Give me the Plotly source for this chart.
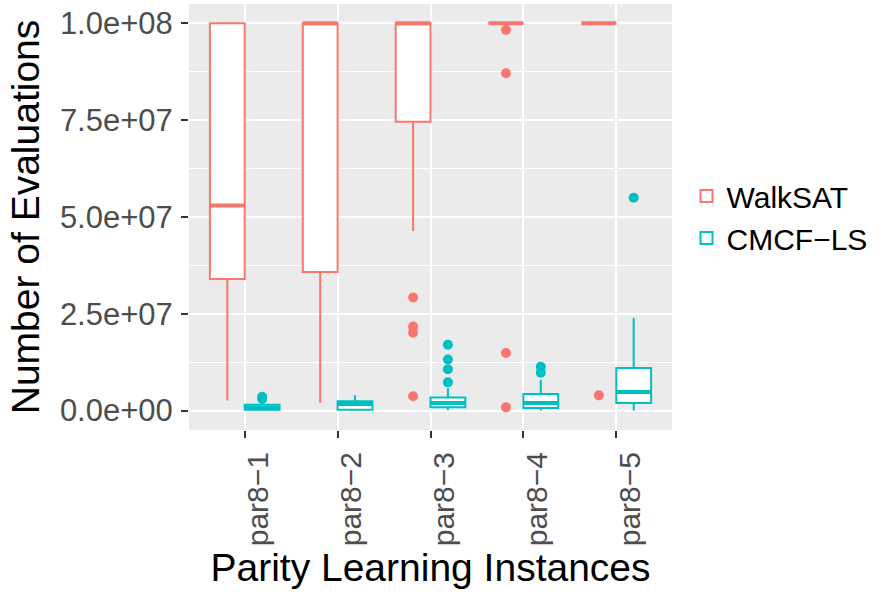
import plotly.graph_objects as go

# Parity learning instances (x categories)
instances = ["par8−1", "par8−2", "par8−3", "par8−4", "par8−5"]

# WalkSAT box statistics (number of evaluations)
walksat_low = [2.6e6, 2.0e6, 4.64e7, 1.0e8, 1.0e8]
walksat_q1 = [3.4e7, 3.58e7, 7.46e7, 1.0e8, 1.0e8]
walksat_median = [5.3e7, 1.0e8, 1.0e8, 1.0e8, 1.0e8]
walksat_q3 = [1.0e8, 1.0e8, 1.0e8, 1.0e8, 1.0e8]
walksat_high = [1.0e8, 1.0e8, 1.0e8, 1.0e8, 1.0e8]
walksat_outlier_x = ["par8−3", "par8−3", "par8−3", "par8−3",
                     "par8−4", "par8−4", "par8−4", "par8−4", "par8−5"]
walksat_outlier_y = [2.92e7, 2.17e7, 2.01e7, 3.7e6,
                     9.83e7, 8.71e7, 1.49e7, 0.85e6, 3.95e6]

# CMCF-LS box statistics
cmcf_low = [0.05e6, 0.05e6, 0.1e6, 0.05e6, 0.05e6]
cmcf_q1 = [0.25e6, 0.26e6, 0.85e6, 0.7e6, 2.0e6]
cmcf_median = [0.8e6, 1.7e6, 2.0e6, 2.0e6, 4.8e6]
cmcf_q3 = [1.55e6, 2.4e6, 3.4e6, 4.3e6, 1.10e7]
cmcf_high = [2.0e6, 3.95e6, 5.85e6, 8.0e6, 2.39e7]
cmcf_outlier_x = ["par8−1", "par8−1", "par8−3", "par8−3", "par8−3", "par8−3",
                  "par8−4", "par8−4", "par8−5"]
cmcf_outlier_y = [3.0e6, 3.6e6, 1.70e7, 1.32e7, 1.07e7, 7.3e6,
                  1.13e7, 9.8e6, 5.5e7]

# Axis ticks
y_tickvals = [0, 2.5e7, 5.0e7, 7.5e7, 1.0e8]
y_ticktext = ["0.0e+00", "2.5e+07", "5.0e+07", "7.5e+07", "1.0e+08"]

RED = "#F8766D"
TEAL = "#00BFC4"
FONT = "Liberation Sans, Arial, Helvetica, sans-serif"

fig = go.Figure()

series = [
    ("WalkSAT", RED, walksat_low, walksat_q1, walksat_median, walksat_q3,
     walksat_high, walksat_outlier_x, walksat_outlier_y),
    ("CMCF−LS", TEAL, cmcf_low, cmcf_q1, cmcf_median, cmcf_q3,
     cmcf_high, cmcf_outlier_x, cmcf_outlier_y),
]

for name, color, lo, q1, med, q3, hi, ox, oy in series:
    # box + whiskers
    fig.add_trace(go.Box(
        name=name,
        x=instances,
        lowerfence=lo, q1=q1, median=med, q3=q3, upperfence=hi,
        offsetgroup=name,
        line=dict(color=color, width=2),
        fillcolor="white",
        whiskerwidth=0,
        boxpoints=False,
        hoverinfo="skip",
    ))
    # heavier median bar, drawn as a collapsed box at the median
    fig.add_trace(go.Box(
        name=name,
        x=instances,
        lowerfence=med, q1=med, median=med, q3=med, upperfence=med,
        offsetgroup=name,
        line=dict(color=color, width=4),
        fillcolor=color,
        whiskerwidth=0,
        boxpoints=False,
        showlegend=False,
        hoverinfo="skip",
    ))
    # outliers
    fig.add_trace(go.Scatter(
        x=ox, y=oy,
        mode="markers",
        offsetgroup=name,
        marker=dict(color=color, size=10),
        showlegend=False,
        hoverinfo="skip",
    ))

fig.update_layout(
    width=891, height=602,
    margin=dict(l=189, r=219, t=4, b=172),
    paper_bgcolor="white",
    plot_bgcolor="#EBEBEB",
    boxmode="group",
    boxgap=0.25,
    boxgroupgap=0,
    scattermode="group",
    scattergap=0.25,
    font=dict(family=FONT, color="black"),
    legend=dict(
        x=1.03, y=0.5, xanchor="left", yanchor="middle",
        font=dict(size=30, color="black"),
        bgcolor="rgba(0,0,0,0)",
        tracegroupgap=0,
    ),
    showlegend=True,
)

fig.update_xaxes(
    type="category",
    categoryorder="array", categoryarray=instances,
    range=[-0.6, 4.6],
    showgrid=True, gridcolor="white", gridwidth=2,
    zeroline=False, showline=False,
    ticks="outside", ticklen=7, tickwidth=2, tickcolor="#333333",
    tickangle=-90,
    tickfont=dict(size=30, color="#4D4D4D"),
    ticklabelstandoff=2,
    ticklabelshift=14,
    title=dict(text="Parity Learning Instances",
               font=dict(size=39, color="black"), standoff=6),
)

fig.update_yaxes(
    range=[-5e6, 1.05e8],
    tickvals=y_tickvals, ticktext=y_ticktext,
    showgrid=True, gridcolor="white", gridwidth=2,
    minor=dict(dtick=1.25e7, tick0=1.25e7, showgrid=True,
               gridcolor="white", gridwidth=1, ticks=""),
    zeroline=False, showline=False,
    ticks="outside", ticklen=7, tickwidth=2, tickcolor="#333333",
    tickfont=dict(size=31, color="#4D4D4D"),
    ticklabelstandoff=2,
    title=dict(text="Number of Evaluations",
               font=dict(size=39, color="black"), standoff=8),
)

fig.write_html("out.html")
